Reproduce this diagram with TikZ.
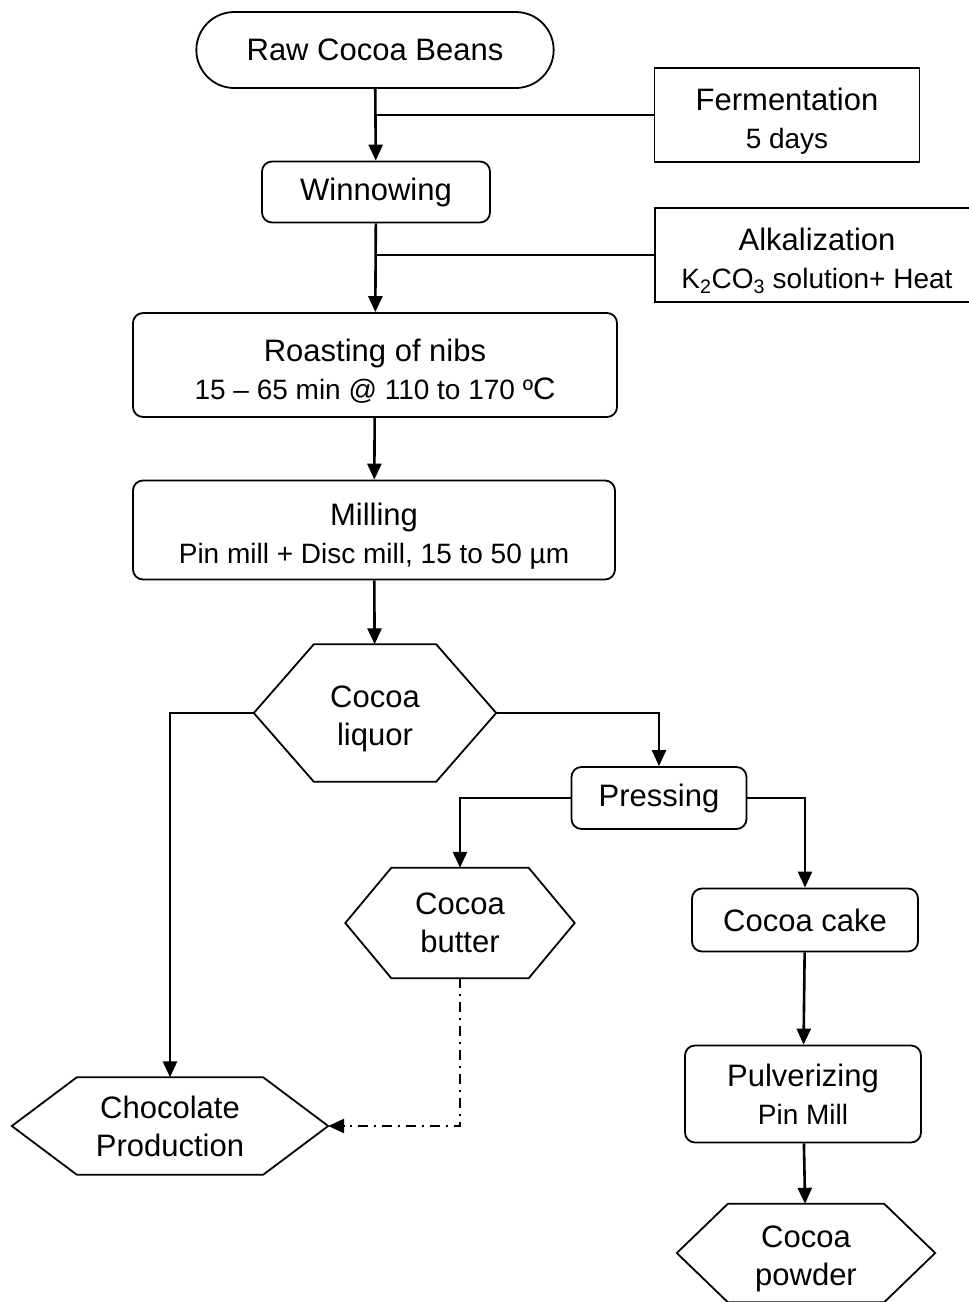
\documentclass[tikz,border=0pt]{standalone}
\usepackage{fontspec}
\setmainfont{Liberation Sans}
\usetikzlibrary{arrows.meta,shapes.misc}
\newcommand{\subline}{\fontsize{28}{35}\selectfont}
\newcommand{\lift}{\rule{0pt}{34pt}}
% hexagon drawn round an empty node: name, indent
\newcommand{\hexaround}[2]{%
  \draw[boxline] (#1.west) -- ([xshift=#2]#1.north west) -- ([xshift=-#2]#1.north east)
     -- (#1.east) -- ([xshift=-#2]#1.south east) -- ([xshift=#2]#1.south west) -- cycle;}

\begin{document}
\begin{tikzpicture}[
     x=1pt, y=-1pt,
     % define styles
     boxline/.style={
         line width=1.8pt
     },
     step box/.style={
         draw, boxline, rectangle, rounded corners=10pt,
         align=center, inner sep=0pt
     },
     side box/.style={
         draw, boxline, rectangle,
         align=center, inner sep=0pt
     },
     hexa/.style={
         align=center, inner sep=0pt
     },
     flow/.style={
         line width=2.6pt, ->
     },
     side/.style={
         line width=2.6pt
     },
     >={Triangle[length=16pt,width=14pt]},
     font=\fontsize{31}{38}\selectfont
]
\clip (0,0) rectangle (969,1302);

% nodes
\node[draw, boxline, rounded rectangle, minimum width=364pt, minimum height=76pt] (raw) at (375,50) {Raw Cocoa Beans};
\node[side box, minimum width=265pt, minimum height=94pt] (ferm) at (787,115) {\lift Fermentation\\{\subline 5 days}};
\node[step box, minimum width=228pt, minimum height=61pt] (winn) at (376,192) {Winnowing};
\node[side box, minimum width=324pt, minimum height=94pt] (alk) at (817,255) {\lift Alkalization\\{\subline K\textsubscript{2}CO\textsubscript{3} solution+ Heat}};
\node[step box, minimum width=484pt, minimum height=104pt] (roast) at (375,365) {\lift Roasting of nibs\\{\subline 15 -- 65 min @ 110 to 170 º}C};
\node[step box, minimum width=482pt, minimum height=99pt] (mill) at (374,530) {\lift Milling\\{\subline Pin mill + Disc mill, 15 to 50 µm}};
\node[hexa, minimum width=242pt, minimum height=137pt] (liquor) at (375,713) {\lift Cocoa\\liquor};
\node[step box, minimum width=175pt, minimum height=62pt] (press) at (659,798) {Pressing};
\node[hexa, minimum width=229pt, minimum height=110pt] (butter) at (460,923) {Cocoa\\butter};
\node[step box, minimum width=226pt, minimum height=63pt] (cake) at (805,920) {Cocoa cake};
\node[hexa, minimum width=316pt, minimum height=97pt] (choc) at (170,1126) {Chocolate\\Production};
\node[step box, minimum width=236pt, minimum height=97pt] (pulv) at (803,1094) {Pulverizing\\{\subline Pin Mill}};
\node[hexa, minimum width=258pt, minimum height=98pt] (powder) at (806,1253) {\lift Cocoa\\powder};

\hexaround{liquor}{60}
\hexaround{butter}{46}
\hexaround{choc}{65}
\hexaround{powder}{51}

% main line
\draw[flow] (raw) -- (winn);
\draw[side] (ferm.west) -- (ferm.west -| raw.south);
\draw[flow] (winn) -- (roast);
\draw[side] (alk.west) -- (alk.west -| winn.south);
\draw[flow] (roast) -- (mill);
\draw[flow] (mill) -- (liquor);

% branches
\draw[flow] (liquor.west) -| (choc.north);
\draw[flow] (liquor.east) -| (press.north);
\draw[flow] (press.west) -| (butter.north);
\draw[flow] (press.east) -| (cake.north);
\draw[flow] (cake) -- (pulv);
\draw[flow] (pulv) -- (powder);
\draw[flow, dash pattern=on 10pt off 6pt on 2pt off 6pt] (butter.south) |- (choc.east);
\end{tikzpicture}
\end{document}
